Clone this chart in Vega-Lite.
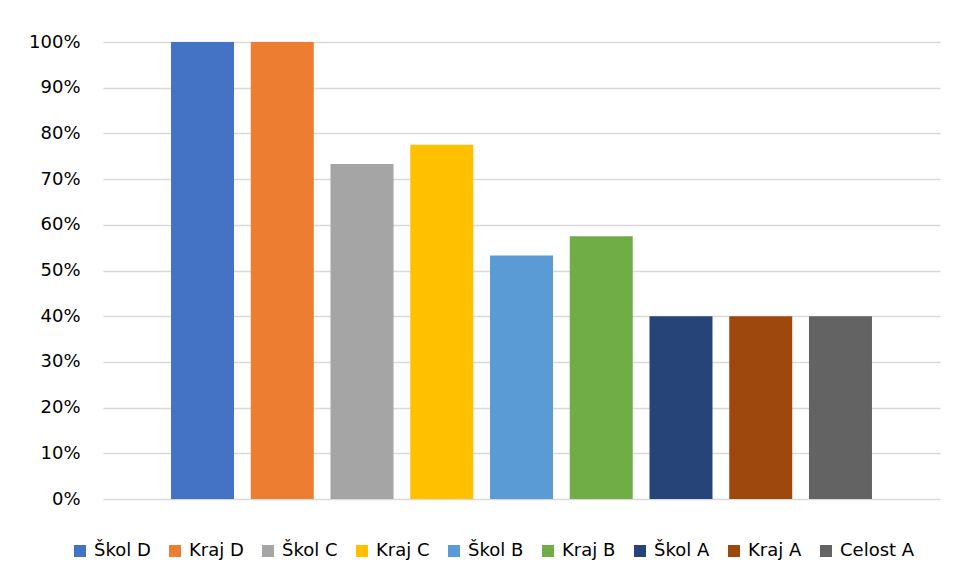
{
  "$schema": "https://vega.github.io/schema/vega-lite/v6.json",
  "autosize": "none",
  "width": 837,
  "height": 457,
  "padding": {"left": 103, "top": 42, "right": 14, "bottom": 83},
  "background": "white",
  "data": {
    "values": [
      {"skupina": "Škol D", "podil": 1.0},
      {"skupina": "Kraj D", "podil": 1.0},
      {"skupina": "Škol C", "podil": 0.733},
      {"skupina": "Kraj C", "podil": 0.775},
      {"skupina": "Škol B", "podil": 0.533},
      {"skupina": "Kraj B", "podil": 0.575},
      {"skupina": "Škol A", "podil": 0.4},
      {"skupina": "Kraj A", "podil": 0.4},
      {"skupina": "Celost A", "podil": 0.4}
    ]
  },
  "mark": {"type": "bar"},
  "encoding": {
    "x": {
      "field": "skupina",
      "type": "nominal",
      "sort": null,
      "axis": null,
      "scale": {"paddingInner": 0.21, "paddingOuter": 0.853}
    },
    "y": {
      "field": "podil",
      "type": "quantitative",
      "scale": {"domain": [0, 1], "nice": false},
      "axis": {
        "values": [0, 0.1, 0.2, 0.3, 0.4, 0.5, 0.6, 0.7, 0.8, 0.9, 1.0],
        "format": ".0%",
        "title": null,
        "domain": false,
        "ticks": false,
        "labelPadding": 23,
        "labelFont": "DejaVu Sans",
        "labelFontSize": 18,
        "labelColor": "#000000",
        "grid": true,
        "gridColor": "#D9D9D9",
        "gridWidth": 1.3
      }
    },
    "color": {
      "field": "skupina",
      "type": "nominal",
      "sort": null,
      "scale": {
        "domain": ["Škol D", "Kraj D", "Škol C", "Kraj C", "Škol B", "Kraj B", "Škol A", "Kraj A", "Celost A"],
        "range": ["#4472C4", "#ED7D31", "#A5A5A5", "#FFC000", "#5B9BD5", "#70AD47", "#264478", "#9E480E", "#636363"]
      },
      "legend": {
        "title": null,
        "orient": "none",
        "direction": "horizontal",
        "columns": 9,
        "legendX": -32,
        "legendY": 500,
        "symbolType": "square",
        "symbolSize": 144,
        "symbolStrokeWidth": 0,
        "symbolOpacity": 1,
        "labelFont": "DejaVu Sans",
        "labelFontSize": 18,
        "labelColor": "#000000",
        "labelOffset": 5,
        "columnPadding": 15,
        "padding": 0
      }
    }
  },
  "config": {
    "view": {"stroke": null}
  }
}
